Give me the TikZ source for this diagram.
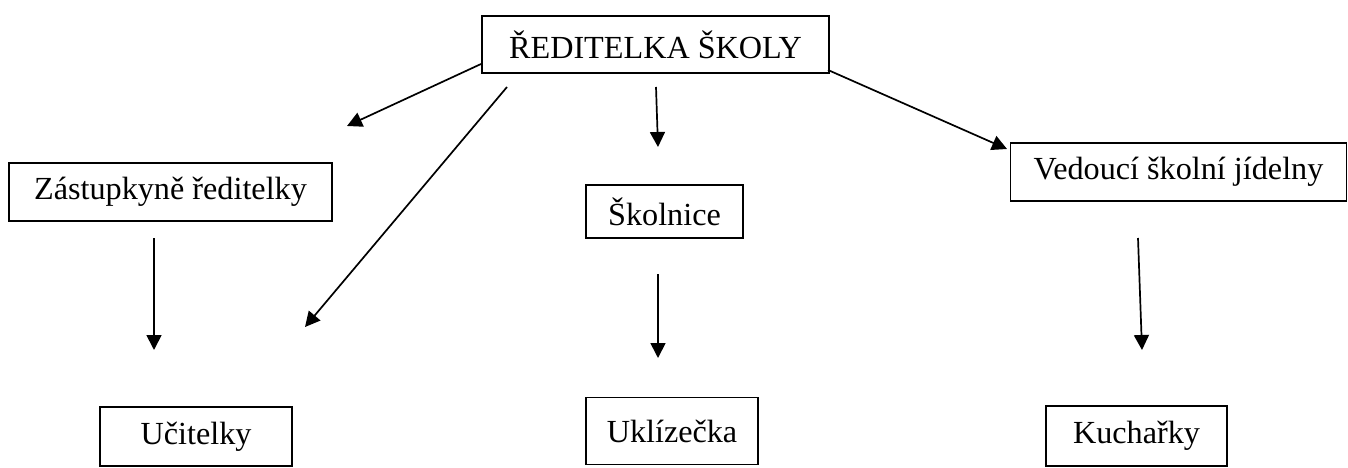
\documentclass[tikz,border=0pt]{standalone}
\usepackage{fontspec}
\setmainfont{Liberation Serif}
\usetikzlibrary{arrows.meta}
\begin{document}
\begin{tikzpicture}[x=1pt,y=-1pt,
  box/.style={draw=black,line width=1.9pt,rectangle,inner sep=0pt,anchor=center,
    font=\fontsize{32.2pt}{36pt}\selectfont},
  conn/.style={line width=1.7pt,-{Triangle[length=15pt,width=15pt]}}]
\useasboundingbox (0,0) rectangle (1348,468);
% boxes
\node[box,minimum width=347pt,minimum height=57pt] (top) at (655.5,44.5) {ŘEDITELKA ŠKOLY};
\node[box,minimum width=323pt,minimum height=58pt] (zast) at (170.5,192) {Zástupkyně ředitelky};
\node[box,minimum width=192pt,minimum height=59pt] (ucit) at (196,436.5) {Učitelky};
\node[box,minimum width=157pt,minimum height=53pt] (skol) at (664.5,211.5) {Školnice};
\node[box,minimum width=172pt,minimum height=67pt] (ukl) at (672,431) {Uklízečka};
\node[box,minimum width=336pt,minimum height=58pt] (ved) at (1178.5,172) {Vedoucí školní jídelny};
\node[box,minimum width=181pt,minimum height=60pt] (kuch) at (1136.5,436) {Kuchařky};
% connector ends
\coordinate (a1s) at (481,64);   \coordinate (a1e) at (347,126);
\coordinate (a2s) at (507,87);   \coordinate (a2e) at (305,327);
\coordinate (a3s) at (656,87);   \coordinate (a3e) at (658,147);
\coordinate (a4s) at (828,70);   \coordinate (a4e) at (1007,149);
\coordinate (a5s) at (154,238);  \coordinate (a5e) at (154,350);
\coordinate (a6s) at (658,274);  \coordinate (a6e) at (658,358);
\coordinate (a7s) at (1138,238); \coordinate (a7e) at (1142,350);
% connectors
\draw[conn] (a1s) -- (a1e);
\draw[conn] (a2s) -- (a2e);
\draw[conn] (a3s) -- (a3e);
\draw[conn] (a4s) -- (a4e);
\draw[conn] (a5s) -- (a5e);
\draw[conn] (a6s) -- (a6e);
\draw[conn] (a7s) -- (a7e);
\end{tikzpicture}
\end{document}
